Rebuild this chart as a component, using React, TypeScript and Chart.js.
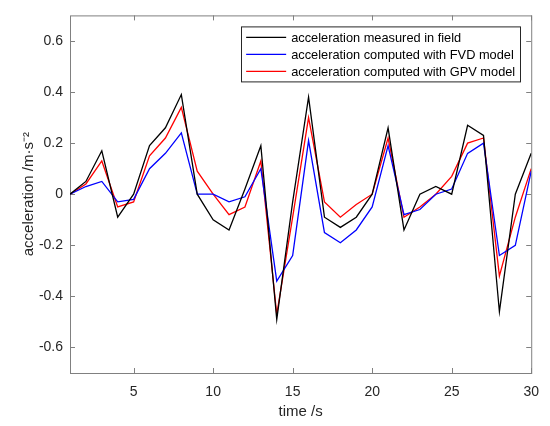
import { Chart, registerables } from "chart.js";
import { useEffect, useRef } from "react";
Chart.register(...registerables);

const timeSec = [1, 2, 3, 4, 5, 6, 7, 8, 9, 10, 11, 12, 13, 14, 15, 16, 17, 18, 19, 20, 21, 22, 23, 24, 25, 26, 27, 28, 29, 30];
const measured = [0, 0.05, 0.17, -0.09, 0, 0.19, 0.26, 0.39, 0, -0.1, -0.14, 0.02, 0.19, -0.49, -0.03, 0.38, -0.09, -0.13, -0.09, 0, 0.26, -0.14, 0, 0.03, 0, 0.27, 0.23, -0.46, 0, 0.16];
const fvd = [0, 0.03, 0.05, -0.03, -0.02, 0.1, 0.16, 0.24, 0, 0, -0.03, -0.01, 0.1, -0.34, -0.24, 0.21, -0.15, -0.19, -0.14, -0.05, 0.19, -0.08, -0.06, 0, 0.02, 0.16, 0.2, -0.24, -0.2, 0.09];
const gpv = [0, 0.04, 0.13, -0.05, -0.03, 0.15, 0.22, 0.34, 0.09, 0, -0.08, -0.05, 0.13, -0.47, -0.09, 0.3, -0.03, -0.09, -0.04, 0, 0.22, -0.09, -0.05, 0, 0.07, 0.2, 0.22, -0.32, -0.09, 0.1];
const seriesNames = [
  "acceleration measured in field",
  "acceleration computed with FVD model",
  "acceleration computed with GPV model",
];
const xTicks = [5, 10, 15, 20, 25, 30];
const yTicks = [-0.6, -0.4, -0.2, 0, 0.2, 0.4, 0.6];

const FONT = "'Liberation Sans', Arial, sans-serif";
const TEXT = "#262626";
const AXIS = "#808080";

// matlab style box with inward ticks
const framePlugin = {
  id: "frame",
  beforeDatasetsDraw(chart: any) {
    const { ctx, chartArea } = chart;
    const { left, right, top, bottom } = chartArea;
    const xs = chart.scales.x;
    const ys = chart.scales.y;
    ctx.save();
    ctx.strokeStyle = AXIS;
    ctx.lineWidth = 1;
    ctx.strokeRect(left + 0.5, top + 0.5, right - left, bottom - top);
    ctx.beginPath();
    xTicks.forEach((v) => {
      const px = Math.round(xs.getPixelForValue(v)) + 0.5;
      ctx.moveTo(px, bottom);
      ctx.lineTo(px, bottom - 5);
      ctx.moveTo(px, top);
      ctx.lineTo(px, top + 5);
    });
    yTicks.forEach((v) => {
      const py = Math.round(ys.getPixelForValue(v)) + 0.5;
      ctx.moveTo(left, py);
      ctx.lineTo(left + 5, py);
      ctx.moveTo(right, py);
      ctx.lineTo(right - 5, py);
    });
    ctx.stroke();
    ctx.restore();
  },
};

const legendPlugin = {
  id: "boxLegend",
  afterDraw(chart: any) {
    const { ctx, chartArea } = chart;
    const sets = chart.data.datasets;
    ctx.save();
    ctx.font = `12.8px ${FONT}`;
    let maxW = 0;
    sets.forEach((d: any) => {
      maxW = Math.max(maxW, ctx.measureText(d.label).width);
    });
    const boxRight = chartArea.right - 11;
    const boxTop = chartArea.top + 11;
    const boxW = 50 + maxW + 5;
    const boxLeft = boxRight - boxW;
    const rowH = 17;
    const boxH = rowH * sets.length + 4;
    ctx.fillStyle = "#ffffff";
    ctx.fillRect(boxLeft, boxTop, boxW, boxH);
    ctx.strokeStyle = TEXT;
    ctx.lineWidth = 1;
    ctx.strokeRect(Math.round(boxLeft) + 0.5, boxTop + 0.5, Math.round(boxW), boxH);
    ctx.textBaseline = "middle";
    sets.forEach((d: any, i: number) => {
      const y = boxTop + 11 + i * rowH;
      ctx.strokeStyle = d.borderColor;
      ctx.lineWidth = 1.3;
      ctx.beginPath();
      ctx.moveTo(boxLeft + 5, y);
      ctx.lineTo(boxLeft + 45, y);
      ctx.stroke();
      ctx.fillStyle = "#000000";
      ctx.fillText(d.label, boxLeft + 50, y + 1);
    });
    ctx.restore();
  },
};

const fmt = (v: number) => (Math.abs(v) < 1e-9 ? "0" : v.toFixed(1));

const AccelerationChart = () => {
  const ref = useRef<null | HTMLCanvasElement>(null);
  useEffect(() => {
    if (!ref.current) return;
    const ctx = ref.current.getContext("2d");
    if (!ctx) throw new Error("Canvas Error: Ctx not available");
    const colors = ["#000000", "#0000ff", "#ff0000"];
    const values = [measured, fvd, gpv];
    const chart = new Chart(ctx, {
      type: "line",
      data: {
        datasets: values.map((vals, i) => ({
          label: seriesNames[i],
          data: timeSec.map((t, j) => ({ x: t, y: vals[j] })),
          borderColor: colors[i],
          borderWidth: 1.3,
          pointRadius: 0,
          tension: 0,
          fill: false,
        })),
      },
      options: {
        responsive: false,
        animation: false,
        layout: { padding: { top: 7, right: 17, left: 0, bottom: 0 } },
        plugins: { legend: { display: false }, tooltip: { enabled: false } },
        scales: {
          x: {
            type: "linear",
            min: 1,
            max: 30,
            grid: { display: false, drawTicks: false },
            border: { display: false },
            afterBuildTicks: (s: any) => {
              s.ticks = xTicks.map((v) => ({ value: v }));
            },
            afterFit: (s: any) => {
              s.height = 53;
            },
            ticks: {
              color: TEXT,
              font: { family: FONT, size: 14 },
              padding: 11,
              maxRotation: 0,
              callback: (v: any) => String(v),
            },
            title: {
              display: true,
              text: "time /s",
              color: TEXT,
              font: { family: FONT, size: 15 },
              padding: { top: 0, bottom: 5 },
            },
          },
          y: {
            type: "linear",
            min: -0.7,
            max: 0.7,
            grid: { display: false, drawTicks: false },
            border: { display: false },
            afterBuildTicks: (s: any) => {
              s.ticks = yTicks.map((v) => ({ value: v }));
            },
            afterFit: (s: any) => {
              s.width = 70;
            },
            ticks: {
              color: TEXT,
              font: { family: FONT, size: 14 },
              padding: 7,
              callback: (v: any) => fmt(Number(v)),
            },
            title: {
              display: true,
              text: "acceleration /m·s⁻²",
              color: TEXT,
              font: { family: FONT, size: 15 },
              padding: { top: 20, bottom: 0 },
            },
          },
        },
      },
      plugins: [framePlugin, legendPlugin],
    });
    return () => chart.destroy();
  }, []);

  return (
    <div style={{ position: "fixed", left: 0, top: 0, width: 550, height: 426, background: "#fff" }}>
      <canvas ref={ref} width={550} height={426}></canvas>
    </div>
  );
};

export default AccelerationChart;
